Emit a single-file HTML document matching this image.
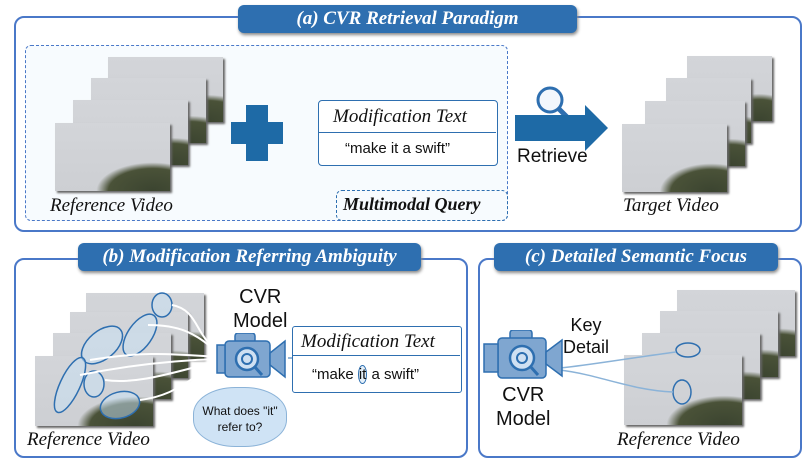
<!DOCTYPE html>
<html><head><meta charset="utf-8"><style>
body{margin:0;width:810px;height:467px;background:#fff;position:relative;overflow:hidden;font-family:"Liberation Serif",serif}
.abs{position:absolute}
.panel{position:absolute;border:2px solid #4a78c8;border-radius:10px;background:#fff}
.tab{position:absolute;background:#2e6fb0;color:#fff;border-radius:6px;font-style:italic;font-weight:bold;font-size:19px;text-align:center;box-shadow:1px 2px 3px #888;line-height:28px}
.fr{position:absolute;background:radial-gradient(ellipse 70% 60% at 85% 100%,#3b4430 0%,#4a5238 55%,rgba(90,95,80,0) 70%),linear-gradient(#d3d5d9,#cdcfd3);box-shadow:2px 2px 2px #666}
.it{font-style:italic;font-size:19px;position:absolute;color:#111}
.hand{font-family:"Liberation Sans",sans-serif;position:absolute;color:#111}
</style></head><body>
<div class="panel" style="left:14px;top:16px;width:784px;height:212px"></div>
<div class="abs" style="left:25px;top:45px;width:481px;height:174px;border:1.5px dashed #4a78c8;border-radius:6px;background:#f7fbfe"></div>
<div class="abs" style="left:336px;top:190px;width:170px;height:29px;border:1.5px dashed #2e6fb0;border-radius:6px"></div>
<div class="it" style="left:343px;top:194px;font-weight:bold;font-size:18px">Multimodal Query</div>
<div class="tab" style="left:238px;top:5px;width:339px;height:28px">(a) CVR Retrieval Paradigm</div>
<div class="fr" style="left:108px;top:57px;width:115px;height:65px"></div>
<div class="fr" style="left:91px;top:78px;width:115px;height:65px"></div>
<div class="fr" style="left:73px;top:100px;width:115px;height:65px"></div>
<div class="fr" style="left:55px;top:123px;width:115px;height:68px"></div>
<div class="it" style="left:50px;top:195px">Reference Video</div>
<div class="abs" style="left:246px;top:105px;width:22px;height:56px;background:#1e6aa6"></div>
<div class="abs" style="left:231px;top:122px;width:52px;height:22px;background:#1e6aa6"></div>
<div class="abs" style="left:318px;top:100px;width:178px;height:64px;border:1.5px solid #2e6fb0;border-radius:4px;background:#fff"></div>
<div class="abs" style="left:318px;top:132px;width:178px;height:0;border-top:1.5px solid #2e6fb0"></div>
<div class="it" style="left:333px;top:106px">Modification Text</div>
<div class="hand" style="left:345px;top:140px;font-size:15px">“make it a swift”</div>
<svg class="abs" style="left:505px;top:80px" width="110" height="75"><circle cx="45" cy="20" r="12" fill="#f2f7fc" stroke="#2e6fb0" stroke-width="3"/><line x1="54" y1="29" x2="64" y2="39" stroke="#2e6fb0" stroke-width="5"/><polygon points="10,35 80,35 80,25 103,48 80,71 80,61 10,61" fill="#1e6aa6"/></svg>
<div class="hand" style="left:517px;top:146px;font-size:19px">Retrieve</div>
<div class="fr" style="left:687px;top:56px;width:85px;height:65px"></div>
<div class="fr" style="left:666px;top:78px;width:85px;height:65px"></div>
<div class="fr" style="left:645px;top:101px;width:100px;height:65px"></div>
<div class="fr" style="left:622px;top:124px;width:105px;height:68px"></div>
<div class="it" style="left:623px;top:195px">Target Video</div>

<div class="panel" style="left:14px;top:258px;width:450px;height:196px"></div>
<div class="tab" style="left:78px;top:243px;width:343px;height:28px">(b) Modification Referring Ambiguity</div>
<div class="fr" style="left:86px;top:293px;width:118px;height:66px"></div>
<div class="fr" style="left:70px;top:312px;width:118px;height:66px"></div>
<div class="fr" style="left:53px;top:333px;width:118px;height:66px"></div>
<div class="fr" style="left:35px;top:356px;width:118px;height:70px"></div>
<svg class="abs" style="left:30px;top:285px" width="270" height="140" fill="none">
<g stroke="#2e6fb0" stroke-width="1.5" fill="rgba(200,225,245,.5)">
<ellipse cx="132" cy="20" rx="10" ry="12"/><ellipse cx="110" cy="50" rx="12" ry="24" transform="rotate(35 110 50)"/>
<ellipse cx="72" cy="60" rx="14" ry="24" transform="rotate(50 72 60)"/><ellipse cx="40" cy="100" rx="10" ry="30" transform="rotate(25 40 100)"/>
<ellipse cx="64" cy="99" rx="10" ry="13"/><ellipse cx="90" cy="120" rx="20" ry="13" transform="rotate(-15 90 120)"/></g>
<g stroke="#fff" stroke-width="2"><path d="M142 20 C170 25,165 55,190 65"/><path d="M118 40 C160 40,170 55,190 68"/><path d="M60 75 C120 65,150 70,190 72"/><path d="M50 90 C100 80,150 75,190 74"/><path d="M75 95 C110 100,150 85,190 76"/><path d="M110 115 C150 110,160 90,190 80"/></g></svg>
<div class="hand" style="left:233px;top:285px;font-size:20px;text-align:center;line-height:24px">CVR<br>Model</div>
<svg class="abs" style="left:210px;top:333px" width="90" height="60"><g fill="#7fa6d0" stroke="#2e6fb0" stroke-width="1.5"><rect x="25" y="0" width="20" height="10" rx="3"/><rect x="15" y="8" width="45" height="36" rx="4"/><rect x="7" y="12" width="8" height="28"/><polygon points="60,20 75,8 75,44 60,32"/></g><circle cx="37" cy="26" r="11" fill="#cfe0f2" stroke="#2e6fb0" stroke-width="2.5"/><circle cx="37" cy="26" r="5" fill="none" stroke="#2e6fb0" stroke-width="2"/><line x1="44" y1="33" x2="52" y2="42" stroke="#2e6fb0" stroke-width="3"/><line x1="84" y1="25" x2="78" y2="25" stroke="#2e6fb0"/></svg>
<div class="abs" style="left:292px;top:326px;width:168px;height:65px;border:1.5px solid #2e6fb0;border-radius:3px;background:#fff"></div>
<div class="abs" style="left:292px;top:355px;width:168px;border-top:1.5px solid #2e6fb0"></div>
<div class="it" style="left:301px;top:331px">Modification Text</div>
<div class="hand" style="left:312px;top:366px;font-size:15px">“make <span style="border:1px solid #2e6fb0;border-radius:50%;background:#e4f0fa">it</span> a swift”</div>
<div class="abs" style="left:193px;top:387px;width:92px;height:58px;background:#cfe3f5;border:1px solid #8bb3d8;border-radius:45%"></div>
<div class="hand" style="left:202px;top:403px;font-size:12px;text-align:center;width:76px;line-height:16px">What does "it" refer to?</div>
<div class="it" style="left:27px;top:429px">Reference Video</div>

<div class="panel" style="left:478px;top:258px;width:320px;height:196px"></div>
<div class="tab" style="left:494px;top:243px;width:284px;height:28px">(c) Detailed Semantic Focus</div>
<div class="fr" style="left:677px;top:290px;width:118px;height:66px"></div>
<div class="fr" style="left:660px;top:311px;width:118px;height:66px"></div>
<div class="fr" style="left:642px;top:333px;width:118px;height:66px"></div>
<div class="fr" style="left:624px;top:355px;width:118px;height:70px"></div>
<svg class="abs" style="left:480px;top:330px" width="250" height="90" fill="none"><ellipse cx="208" cy="20" rx="12" ry="7" stroke="#2e6fb0" stroke-width="1.5"/><ellipse cx="202" cy="62" rx="9" ry="12" stroke="#2e6fb0" stroke-width="1.5"/><path d="M196 22 C150 28,110 35,80 38" stroke="#8bb3d8" stroke-width="1.5"/><path d="M193 62 C150 60,120 45,80 40" stroke="#8bb3d8" stroke-width="1.5"/><g fill="#7fa6d0" stroke="#2e6fb0" stroke-width="1.5"><rect x="30" y="0" width="22" height="10" rx="3"/><rect x="18" y="8" width="48" height="40" rx="4"/><rect x="4" y="14" width="14" height="28"/><polygon points="66,22 82,10 82,46 66,34"/></g><circle cx="42" cy="28" r="12" fill="#cfe0f2" stroke="#2e6fb0" stroke-width="2.5"/><circle cx="42" cy="28" r="5" fill="none" stroke="#2e6fb0" stroke-width="2"/><line x1="50" y1="36" x2="58" y2="45" stroke="#2e6fb0" stroke-width="3"/></svg>
<div class="hand" style="left:563px;top:314px;font-size:18px;text-align:center;line-height:22px">Key<br>Detail</div>
<div class="hand" style="left:496px;top:383px;font-size:20px;text-align:center;line-height:24px">CVR<br>Model</div>
<div class="it" style="left:617px;top:429px">Reference Video</div>
</body></html>
